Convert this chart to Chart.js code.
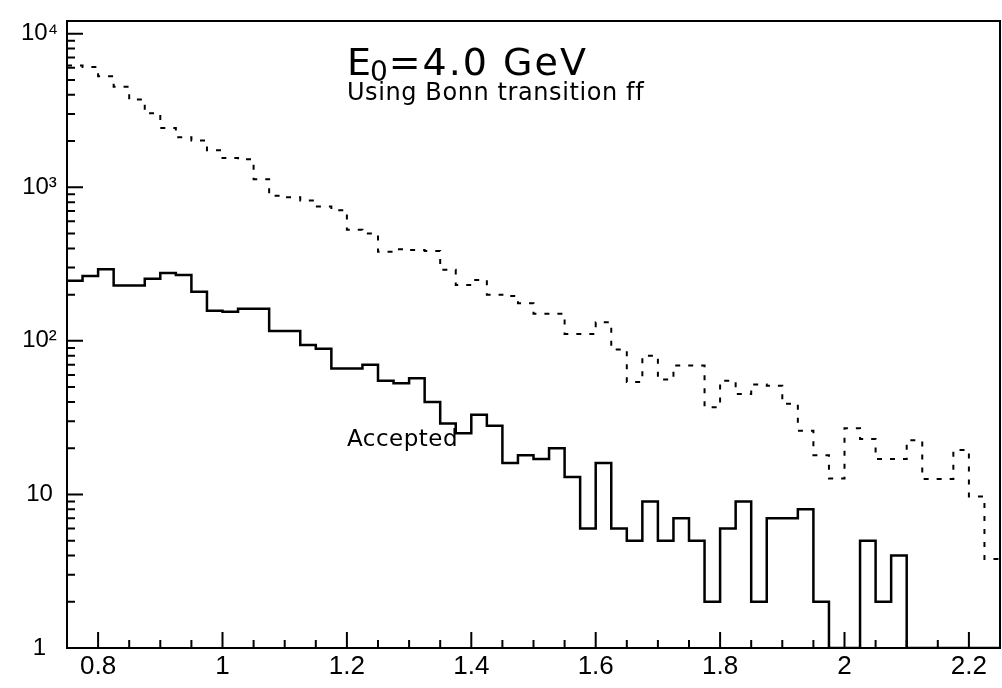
<!DOCTYPE html>
<html>
<head>
<meta charset="utf-8">
<script src="https://cdn.jsdelivr.net/npm/chart.js@4.4.1/dist/chart.umd.min.js"></script>
<style>
  html, body { margin: 0; padding: 0; background: #fff; }
  canvas { display: block; }
</style>
</head>
<body>
<canvas id="plot" width="1002" height="688"></canvas>
<script>
// lower edges of the bins (0.025 wide), last upper edge separately
var binLow = [
  0.75, 0.775, 0.8, 0.825, 0.85, 0.875, 0.9, 0.925, 0.95, 0.975,
  1.0, 1.025, 1.05, 1.075, 1.1, 1.125, 1.15, 1.175, 1.2, 1.225,
  1.25, 1.275, 1.3, 1.325, 1.35, 1.375, 1.4, 1.425, 1.45, 1.475,
  1.5, 1.525, 1.55, 1.575, 1.6, 1.625, 1.65, 1.675, 1.7, 1.725,
  1.75, 1.775, 1.8, 1.825, 1.85, 1.875, 1.9, 1.925, 1.95, 1.975,
  2.0, 2.025, 2.05, 2.075, 2.1, 2.125, 2.15, 2.175, 2.2, 2.225
];
var binHigh = 2.25;

// dashed histogram (all events)
var totalCounts = [
  6220, 6070, 5280, 4510, 3730, 3030, 2430, 2120, 2020, 1740,
  1550, 1520, 1130, 880, 860, 820, 750, 710, 530, 500,
  380, 395, 390, 385, 290, 231, 249, 200, 196, 176,
  150, 150, 111, 111, 132, 88, 54, 80, 56, 69,
  69, 37, 55, 45, 52, 51, 39, 26, 18, 12.7,
  27, 23, 17, 17, 22.5, 12.6, 12.6, 19.5, 9.7, 3.8
];

// solid histogram ("Accepted")
var acceptedCounts = [
  246, 264, 293, 229, 229, 254, 277, 268, 209, 157,
  155, 162, 162, 116, 116, 94, 89, 66, 66, 70,
  55, 53, 57, 40, 29, 25, 33, 28, 16, 18,
  17, 20, 13, 6, 16, 6, 5, 9, 5, 7,
  5, 2, 6, 9, 2, 7, 7, 8, 2, 0,
  0, 5, 2, 4, 0, 0, 0, 0, 0, 0
];

var xTickValues = [0.8, 1, 1.2, 1.4, 1.6, 1.8, 2, 2.2];
var yTickValues = [1, 10, 100, 1000, 10000];
var yTickLabels = ["1", "10", "10\u00b2", "10\u00b3", "10\u2074"];
var xMin = 0.75, xMax = 2.25;
var yMin = 1, yMax = 12100;

var WIDE = "'DejaVu Sans', 'Liberation Sans', sans-serif";
var NARROW = "'Liberation Sans', 'DejaVu Sans', sans-serif";

// log axis has no zero: empty bins are drawn on the bottom axis
function stepPoints(counts) {
  var pts = counts.map(function (c, i) {
    return { x: binLow[i], y: c > 0 ? c : yMin };
  });
  pts.push({ x: binHigh, y: pts[pts.length - 1].y });
  return pts;
}

var frameAndTicks = {
  id: 'frameAndTicks',
  afterDraw: function (chart) {
    var ctx = chart.ctx, a = chart.chartArea;
    var xs = chart.scales.x, ys = chart.scales.y;
    ctx.save();
    ctx.strokeStyle = '#000';
    ctx.lineWidth = 2;
    ctx.strokeRect(a.left, a.top, a.right - a.left, a.bottom - a.top);

    ctx.beginPath();
    // x ticks every 0.05, long ones on the labelled values
    for (var k = 16; k * 0.05 < xMax - 1e-9; k++) {
      var px = xs.getPixelForValue(k * 0.05);
      var len = (k % 4 === 0) ? 16 : 8;
      ctx.moveTo(px, a.bottom);
      ctx.lineTo(px, a.bottom - len);
    }
    // y ticks 1..9 per decade
    for (var d = 1; d <= 10000; d *= 10) {
      for (var m = 1; m <= 9; m++) {
        var v = m * d;
        if (v > yMax) break;
        var py = ys.getPixelForValue(v);
        ctx.moveTo(a.left, py);
        ctx.lineTo(a.left + (m === 1 ? 16 : 8), py);
      }
    }
    ctx.stroke();

    // texts
    ctx.fillStyle = '#000';
    ctx.textBaseline = 'alphabetic';
    ctx.textAlign = 'left';
    var tx = xs.getPixelForValue(1.2);
    var ty = 75;
    ctx.letterSpacing = '2px';
    ctx.font = '38px ' + WIDE;
    ctx.fillText('E', tx, ty);
    var w = ctx.measureText('E').width;
    ctx.letterSpacing = '0px';
    ctx.font = '28px ' + WIDE;
    ctx.fillText('0', tx + w - 3, ty + 6);
    w += ctx.measureText('0').width - 2;
    ctx.letterSpacing = '2px';
    ctx.font = '38px ' + WIDE;
    ctx.fillText('=4.0 GeV', tx + w, ty);

    ctx.letterSpacing = '0.6px';
    ctx.font = '24px ' + WIDE;
    // ZWNJ keeps the two f's apart as in the original
    ctx.fillText('Using Bonn transition f\u200cf', tx, 100);

    ctx.letterSpacing = '0.5px';
    ctx.font = '23px ' + WIDE;
    ctx.fillText('Accepted', tx, 446);
    ctx.restore();
  }
};

new Chart(document.getElementById('plot'), {
  type: 'line',
  data: {
    datasets: [
      {
        label: 'All',
        data: stepPoints(totalCounts),
        stepped: 'before',
        borderColor: '#000',
        borderWidth: 2,
        borderDash: [5, 8],
        pointRadius: 0,
        fill: false
      },
      {
        label: 'Accepted',
        data: stepPoints(acceptedCounts),
        stepped: 'before',
        borderColor: '#000',
        borderWidth: 2.5,
        pointRadius: 0,
        fill: false
      }
    ]
  },
  options: {
    responsive: false,
    animation: false,
    layout: { padding: { left: 0, top: 14, right: 2, bottom: 0 } },
    plugins: {
      legend: { display: false },
      tooltip: { enabled: false }
    },
    scales: {
      x: {
        type: 'linear',
        min: xMin,
        max: xMax,
        grid: { display: false, drawTicks: false },
        border: { display: false },
        afterBuildTicks: function (s) {
          s.ticks = xTickValues.map(function (v) { return { value: v }; });
        },
        afterFit: function (s) { s.height = 40; },
        ticks: {
          color: '#000',
          font: { family: NARROW, size: 26, lineHeight: 1 },
          padding: 6,
          maxRotation: 0,
          autoSkip: false,
          callback: function (v) { return String(v); }
        }
      },
      y: {
        type: 'logarithmic',
        min: yMin,
        max: yMax,
        grid: { display: false, drawTicks: false },
        border: { display: false },
        afterBuildTicks: function (s) {
          s.ticks = yTickValues.map(function (v) { return { value: v }; });
        },
        afterFit: function (s) { s.width = 67; },
        ticks: {
          color: '#000',
          font: { family: NARROW, size: 24, lineHeight: 1 },
          padding: 9,
          crossAlign: 'center',
          autoSkip: false,
          callback: function (v) { return yTickLabels[yTickValues.indexOf(v)]; }
        }
      }
    }
  },
  plugins: [frameAndTicks]
});
</script>
</body>
</html>
